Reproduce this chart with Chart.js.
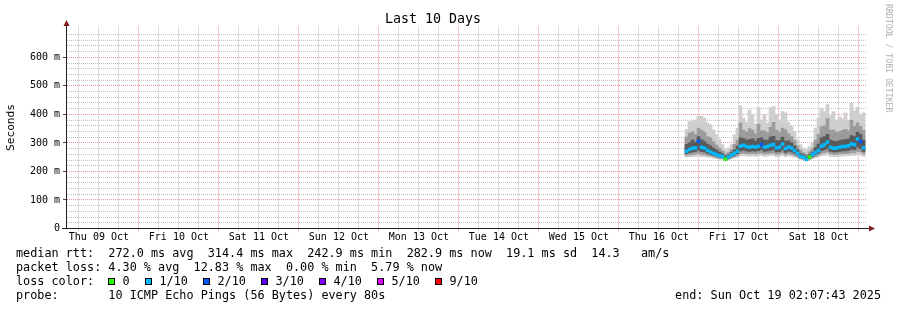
<!DOCTYPE html>
<html>
<head>
<meta charset="utf-8">
<title>Last 10 Days</title>
<script src="https://cdn.jsdelivr.net/npm/chart.js@4/dist/chart.umd.min.js"></script>
<style>
  html, body { margin: 0; padding: 0; background: #fff; }
  #wrap { width: 897px; height: 310px; }
</style>
</head>
<body>
<div id="wrap"><canvas id="chart" width="897" height="310"></canvas></div>
<script>
// time axis is in hours since Thu 09 Oct 00:00
const rangeStartHour = 2.1286;   // Thu Oct 09 02:07:43
const rangeEndHour = 242.1286;   // Sun Oct 19 02:07:43
const dayLabels = ['Thu 09 Oct', 'Fri 10 Oct', 'Sat 11 Oct', 'Sun 12 Oct', 'Mon 13 Oct',
                   'Tue 14 Oct', 'Wed 15 Oct', 'Thu 16 Oct', 'Fri 17 Oct', 'Sat 18 Oct'];

// samples start Thu 16 Oct evening, one consolidated step every 0.9 h
const firstSampleHour = 188.28;
const sampleStepHours = 0.9;

// median rtt (ms)
const median = [271, 277, 282, 282, 306, 285, 282, 274, 268, 264,
                259, 255, 252, 244, 251, 258, 264, 271, 288, 292,
                287, 285, 287, 286, 288, 294, 285, 287, 292, 294,
                282, 285, 296, 280, 286, 282, 273, 264, 253, 250,
                243, 251, 259, 266, 273, 288, 294, 303, 285, 281,
                282, 285, 287, 287, 290, 296, 294, 314, 305, 283];

// smoke: sorted ping bands (ms), outermost to innermost
const pingMax = [347, 376, 375, 381, 393, 393, 387, 370, 364, 346,
                 329, 312, 294, 277, 282, 294, 329, 352, 430, 387,
                 372, 415, 399, 366, 425, 381, 400, 370, 425, 428,
                 399, 380, 410, 405, 372, 358, 341, 312, 294, 282,
                 277, 288, 300, 352, 387, 420, 410, 434, 395, 410,
                 380, 392, 385, 405, 380, 440, 412, 425, 400, 405];
const ping2Hi = [320, 335, 340, 330, 352, 345, 338, 322, 318, 305,
                 292, 283, 272, 262, 266, 276, 295, 310, 370, 345,
                 338, 350, 345, 332, 365, 343, 342, 336, 355, 372,
                 345, 338, 352, 346, 333, 322, 308, 290, 274, 266,
                 260, 270, 280, 310, 330, 356, 360, 385, 345, 345,
                 338, 340, 344, 348, 342, 380, 358, 370, 358, 345];
const ping3Hi = [295, 300, 310, 302, 322, 312, 305, 296, 290, 282,
                 275, 268, 262, 254, 258, 266, 276, 288, 318, 315,
                 310, 312, 314, 306, 316, 318, 310, 309, 320, 323,
                 308, 308, 320, 306, 307, 300, 290, 277, 263, 258,
                 251, 259, 268, 284, 296, 318, 322, 330, 310, 306,
                 305, 308, 311, 312, 313, 326, 322, 338, 330, 310];
const ping3Lo = [262, 266, 268, 270, 275, 270, 268, 264, 260, 257,
                 254, 250, 248, 241, 246, 252, 257, 262, 272, 275,
                 272, 270, 272, 271, 273, 276, 270, 272, 274, 276,
                 268, 270, 277, 267, 271, 268, 263, 257, 249, 246,
                 240, 246, 253, 259, 264, 273, 276, 281, 270, 268,
                 268, 270, 272, 272, 274, 278, 276, 286, 281, 270];
const ping2Lo = [256, 258, 259, 261, 263, 260, 259, 256, 254, 252,
                 249, 246, 245, 239, 243, 248, 252, 256, 262, 264,
                 262, 261, 262, 261, 263, 265, 261, 262, 264, 265,
                 260, 261, 266, 259, 262, 260, 256, 252, 245, 243,
                 238, 243, 249, 253, 257, 263, 265, 268, 261, 260,
                 260, 261, 262, 262, 263, 266, 265, 270, 268, 261];
const pingMin = [250, 251, 252, 253, 254, 252, 251, 250, 249, 247,
                 245, 243, 242, 237, 240, 244, 247, 250, 254, 255,
                 254, 253, 254, 253, 254, 256, 253, 254, 255, 256,
                 252, 253, 256, 252, 254, 253, 250, 247, 242, 240,
                 236, 240, 245, 248, 251, 255, 256, 258, 253, 252,
                 252, 253, 254, 254, 255, 256, 256, 258, 257, 253];

// loss bucket per sample (index into lossLabels)
const lossStep = [1, 1, 1, 1, 2, 1, 1, 1, 1, 1,
                  1, 1, 1, 0, 1, 1, 1, 1, 1, 1,
                  1, 1, 1, 1, 1, 2, 1, 1, 1, 1,
                  1, 1, 1, 1, 1, 1, 1, 1, 1, 1,
                  1, 0, 1, 1, 1, 1, 1, 1, 1, 1,
                  1, 1, 1, 1, 1, 1, 1, 1, 2, 1];

const lossLabels = ['0', '1/10', '2/10', '3/10', '4/10', '5/10', '9/10'];
const lossColors = ['#26ff00', '#00b8ff', '#0059ff', '#5e00ff', '#7e00ff', '#dd00ff', '#ff0000'];

const yMajorTicks = [0, 100, 200, 300, 400, 500, 600];
const yMax = 708;
const yLastGrid = 680;

const legendLines = [
  'median rtt:  272.0 ms avg  314.4 ms max  242.9 ms min  282.9 ms now  19.1 ms sd  14.3   am/s',
  'packet loss: 4.30 % avg  12.83 % max  0.00 % min  5.79 % now'
];
const probeText = 'probe:       10 ICMP Echo Pings (56 Bytes) every 80s';
const endText = 'end: Sun Oct 19 02:07:43 2025';

const MONO = "'DejaVu Sans Mono', monospace";
const GRID = 'rgba(143,143,143,0.55)';
const MGRID = 'rgba(222,79,79,0.6)';
const ARROW = '#801f1f';
const AXIS = '#1f1f1f';

const times = median.map((_, i) => firstSampleHour + i * sampleStepHours);
const band = (lo, hi) => times.map((t, i) => ({ x: t, y: [lo[i], hi[i]] }));

// grid every 6 hours, red at midnight
const xGrid = [];
for (let h = 0; h <= 24 * dayLabels.length; h += 6) {
  if (h > rangeStartHour && h < rangeEndHour) xGrid.push(h);
}
const yGrid = [];
for (let v = 0; v <= yLastGrid; v += 20) yGrid.push(v);

const decor = {
  id: 'decor',
  afterDraw(chart) {
    const ctx = chart.ctx;
    ctx.save();

    // axis extensions + arrows
    ctx.strokeStyle = AXIS;
    ctx.lineWidth = 1;
    ctx.beginPath();
    ctx.moveTo(62, 228.5); ctx.lineTo(870, 228.5);
    ctx.moveTo(66.5, 229); ctx.lineTo(66.5, 22);
    ctx.stroke();
    ctx.fillStyle = ARROW;
    ctx.beginPath();
    ctx.moveTo(63.5, 26); ctx.lineTo(69.5, 26); ctx.lineTo(66.5, 20); ctx.closePath();
    ctx.fill();
    ctx.beginPath();
    ctx.moveTo(869, 225.5); ctx.lineTo(869, 231.5); ctx.lineTo(875, 228.5); ctx.closePath();
    ctx.fill();

    // legend text
    ctx.fillStyle = '#000';
    ctx.font = '11.8px ' + MONO;
    ctx.textBaseline = 'middle';
    ctx.textAlign = 'left';
    ctx.fillText(legendLines[0], 16, 254.3);
    ctx.fillText(legendLines[1], 16, 268.3);
    ctx.fillText('loss color:', 16, 281.7);
    let bx = 108;
    lossLabels.forEach((lab, k) => {
      ctx.fillStyle = lossColors[k];
      ctx.fillRect(bx, 278, 7, 7);
      ctx.strokeStyle = '#000';
      ctx.strokeRect(bx + 0.5, 278.5, 6, 6);
      ctx.fillStyle = '#000';
      const lx = bx + 14.5;
      ctx.fillText(lab, lx, 281.7);
      bx = Math.round(lx + ctx.measureText(lab).width + 15.5);
    });
    ctx.fillText(probeText, 16, 296);
    ctx.textAlign = 'right';
    ctx.fillText(endText, 881, 296);

    // watermark
    ctx.translate(888, 4);
    ctx.rotate(Math.PI / 2);
    ctx.textAlign = 'left';
    ctx.font = '8.2px ' + MONO;
    ctx.fillStyle = '#b0b0b0';
    ctx.fillText('RRDTOOL / TOBI OETIKER', 0, 0);
    ctx.restore();
  }
};

const barCommon = {
  grouped: false,
  barPercentage: 1,
  categoryPercentage: 1,
  borderWidth: 0,
  borderSkipped: false
};

new Chart(document.getElementById('chart'), {
  type: 'bar',
  data: {
    datasets: [
      Object.assign({
        label: 'median',
        data: times.map((t, i) => ({ x: t, y: [median[i] - 5, median[i] + 5] })),
        backgroundColor: lossStep.map(l => lossColors[l]),
        order: 1
      }, barCommon),
      Object.assign({ label: 'inner', data: band(ping3Lo, ping3Hi), backgroundColor: '#5a5a5a', order: 2 }, barCommon),
      Object.assign({ label: 'mid', data: band(ping2Lo, ping2Hi), backgroundColor: '#9c9c9c', order: 3 }, barCommon),
      Object.assign({ label: 'outer', data: band(pingMin, pingMax), backgroundColor: '#cfcfcf', order: 4 }, barCommon)
    ]
  },
  options: {
    responsive: false,
    animation: false,
    layout: { padding: { left: 0, right: 31, top: 0, bottom: 0 } },
    plugins: {
      legend: { display: false },
      tooltip: { enabled: false },
      title: {
        display: true,
        text: 'Last 10 Days',
        color: '#000',
        font: { family: MONO, size: 13.3, weight: 'normal', lineHeight: 1 },
        padding: { top: 13.2, bottom: 0 }
      }
    },
    scales: {
      x: {
        type: 'linear',
        min: rangeStartHour,
        max: rangeEndHour,
        offset: false,
        afterBuildTicks: s => { s.ticks = xGrid.map(v => ({ value: v })); },
        afterFit: s => { s.height = 81.5; },
        ticks: {
          autoSkip: false,
          maxRotation: 0,
          padding: 1,
          color: '#000',
          font: { family: MONO, size: 10 },
          callback: v => (v % 24 === 12 ? dayLabels[(v - 12) / 24] : '')
        },
        grid: {
          offset: false,
          lineWidth: 1,
          tickLength: 2,
          color: c => (c.tick && c.tick.value % 24 === 0 ? MGRID : GRID),
          tickColor: c => (c.tick && c.tick.value % 24 === 0 ? MGRID : GRID)
        },
        border: { color: AXIS, width: 1, dash: [1, 1] }
      },
      y: {
        min: 0,
        max: yMax,
        afterBuildTicks: s => { s.ticks = yGrid.map(v => ({ value: v })); },
        afterFit: s => { s.width = 66; },
        ticks: {
          autoSkip: false,
          padding: 3,
          color: '#000',
          font: { family: MONO, size: 10 },
          callback: v => (yMajorTicks.includes(v) ? (v === 0 ? '0' : v + ' m') : '')
        },
        grid: {
          lineWidth: 1,
          tickLength: 3,
          color: c => {
            const v = c.tick ? c.tick.value : -1;
            if (v === 0) return 'rgba(0,0,0,0)';
            return v % 100 === 0 ? MGRID : GRID;
          },
          tickColor: c => (c.tick && c.tick.value % 100 === 0 ? '#444' : 'rgba(0,0,0,0)')
        },
        border: { color: AXIS, width: 1, dash: [1, 1] },
        title: {
          display: true,
          text: 'Seconds',
          color: '#000',
          font: { family: MONO, size: 11.2 },
          padding: { top: 4, bottom: 0 }
        }
      }
    }
  },
  plugins: [decor]
});
</script>
</body>
</html>
